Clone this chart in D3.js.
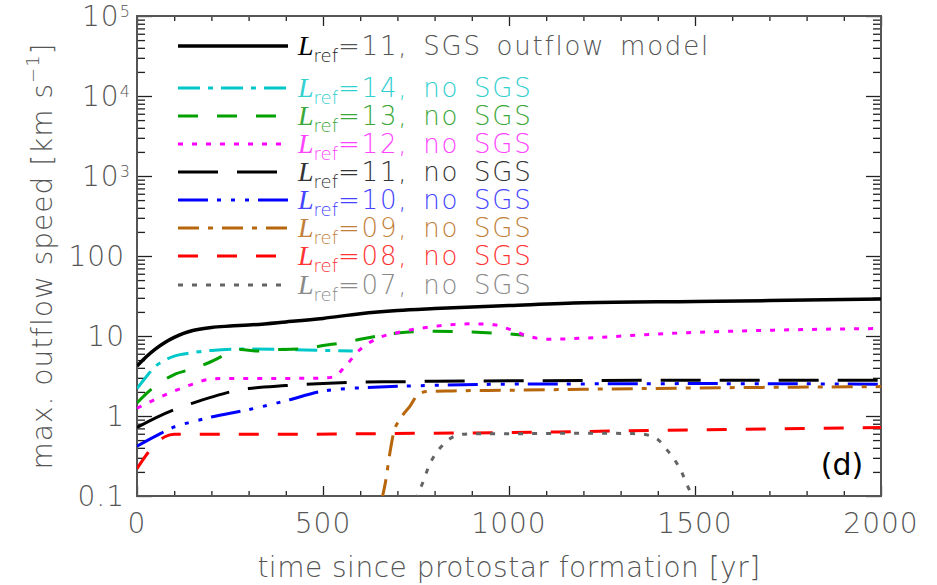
<!DOCTYPE html>
<html>
<head>
<meta charset="utf-8">
<script src="https://cdn.jsdelivr.net/npm/d3@7"></script>
<style>
  html, body { margin: 0; padding: 0; background: #fff; }
  svg { display: block; }
  .lbl { font-family: "DejaVu Sans", sans-serif; font-weight: 200; }
</style>
</head>
<body>
<svg id="chart" width="937" height="585"></svg>
<script>
// ---- data: max. outflow speed [km/s] vs. time since protostar formation [yr] ----
const sgsT  = [0, 25, 50, 75, 100, 125, 150, 200, 250, 300, 400, 500, 600, 700, 800, 1000, 1200, 1500, 1700, 2000];
const sgsV  = [4.2, 5.5, 6.9, 8.3, 9.6, 10.8, 11.7, 12.8, 13.3, 13.7, 15.0, 16.6, 19.0, 20.8, 22.0, 24.0, 26.0, 27.0, 27.7, 29.0];

const l14T = [0, 25, 50, 75, 100, 150, 200, 300, 400, 500, 580];
const l14V = [2.2, 3.1, 4.2, 5.0, 5.6, 6.2, 6.6, 6.9, 6.8, 6.6, 6.5];

const l13T = [0, 25, 50, 100, 150, 200, 250, 280, 320, 380, 450, 500, 550, 600, 700, 800, 900, 1000, 1040];
const l13V = [1.45, 1.9, 2.37, 3.3, 3.9, 4.8, 6.2, 6.8, 6.5, 6.8, 6.9, 7.6, 8.2, 9.1, 10.9, 11.5, 11.2, 10.6, 10.2];

const l12T = [0, 50, 100, 150, 200, 250, 300, 400, 500, 530, 560, 600, 650, 700, 800, 900, 960, 1000, 1050, 1100, 1200, 1400, 1700, 2000];
const l12V = [1.25, 1.62, 2.05, 2.5, 2.9, 2.95, 2.95, 2.95, 2.98, 3.1, 4.2, 6.8, 9.5, 11.0, 13.2, 14.2, 13.8, 12.2, 10.0, 9.1, 9.4, 10.6, 11.8, 12.4];

const l11T = [0, 50, 100, 150, 200, 250, 300, 400, 500, 600, 700, 800, 1000, 1200, 1500, 1800, 2000];
const l11V = [0.72, 0.95, 1.2, 1.45, 1.72, 2.0, 2.2, 2.4, 2.55, 2.65, 2.68, 2.72, 2.75, 2.78, 2.8, 2.8, 2.8];

const l10T = [0, 50, 100, 150, 200, 300, 400, 500, 550, 600, 700, 800, 1000, 1200, 1500, 2000];
const l10V = [0.42, 0.56, 0.73, 0.85, 0.97, 1.2, 1.55, 2.05, 2.18, 2.25, 2.35, 2.42, 2.5, 2.52, 2.54, 2.5];

const l09T = [658, 668, 680, 690, 707, 734, 755, 780, 850, 1000, 1200, 1500, 1800, 2000];
const l09V = [0.09, 0.15, 0.35, 0.62, 0.91, 1.33, 1.85, 2.02, 2.06, 2.1, 2.16, 2.24, 2.3, 2.33];

const l08T = [0, 30, 50, 75, 100, 200, 400, 600, 800, 1000, 1200, 1400, 1600, 1800, 2000];
const l08V = [0.22, 0.35, 0.45, 0.55, 0.59, 0.59, 0.59, 0.6, 0.61, 0.62, 0.64, 0.66, 0.68, 0.7, 0.72];

const l07T = [750, 757, 770, 783, 801, 819, 841, 864, 900, 1000, 1200, 1350, 1397, 1424, 1446, 1464, 1478, 1495];
const l07V = [0.09, 0.11, 0.154, 0.226, 0.33, 0.42, 0.52, 0.58, 0.6, 0.6, 0.61, 0.6, 0.52, 0.38, 0.28, 0.2, 0.14, 0.095];

// series table: label number, text, colours, dash styles
const seriesNames  = ["11", "14", "13", "12", "11", "10", "09", "08", "07"];
const seriesTexts  = ["SGS outflow model", "no SGS", "no SGS", "no SGS", "no SGS", "no SGS", "no SGS", "no SGS", "no SGS"];
const seriesColors = ["#000000", "#00c8c8", "#00a000", "#ff00ff", "#000000", "#0000ff", "#b8660b", "#ff0000", "#646464"];
const textColors   = ["#555555", "#33d0d0", "#3aa83a", "#ff44ff", "#333333", "#4444ff", "#c27f3a", "#ff3333", "#8a8a8a"];
const seriesDash   = [null, "22 8 5 8", "20 19", "5 9", "40 19", "30 9 4 10 4 10 4 9", "21 9 5 9", "20 19", "5 9"];
const seriesT = [sgsT, l14T, l13T, l12T, l11T, l10T, l09T, l08T, l07T];
const seriesV = [sgsV, l14V, l13V, l12V, l11V, l10V, l09V, l08V, l07V];

const xMajor = [0, 500, 1000, 1500, 2000];
const yMajor = [0.1, 1, 10, 100, 1e3, 1e4, 1e5];
const yLabels = [["0.1"], ["1"], ["10"], ["100"], ["10", "3"], ["10", "4"], ["10", "5"]];

// ---- layout ----
const svg = d3.select("#chart");
const L = 137, R = 881, T = 16, B = 496;
const x = d3.scaleLinear().domain([0, 2000]).range([L, R]);
const y = d3.scaleLog().domain([0.1, 1e5]).range([B, T]);

const axisColor = "#555";
const xMinor = d3.range(0, 2001, 100).filter(d => d % 500 !== 0);
const yMinor = [];
for (let e = -1; e < 5; e++) for (let k = 2; k <= 9; k++) yMinor.push(k * Math.pow(10, e));

function styleAxis(g) {
  g.select(".domain").remove();
  g.selectAll(".tick line").attr("stroke", "#222").attr("stroke-width", 1.3);
}

// ticks pointing into the plot on all four sides
svg.append("g").attr("transform", `translate(0,${B})`)
  .call(d3.axisBottom(x).tickValues(xMajor).tickSize(-10).tickFormat("")).call(styleAxis);
svg.append("g").attr("transform", `translate(0,${B})`)
  .call(d3.axisBottom(x).tickValues(xMinor).tickSize(-5).tickFormat("")).call(styleAxis);
svg.append("g").attr("transform", `translate(0,${T})`)
  .call(d3.axisTop(x).tickValues(xMajor).tickSize(-10).tickFormat("")).call(styleAxis);
svg.append("g").attr("transform", `translate(0,${T})`)
  .call(d3.axisTop(x).tickValues(xMinor).tickSize(-5).tickFormat("")).call(styleAxis);
svg.append("g").attr("transform", `translate(${L},0)`)
  .call(d3.axisLeft(y).tickValues(yMajor).tickSize(-15).tickFormat("")).call(styleAxis);
svg.append("g").attr("transform", `translate(${L},0)`)
  .call(d3.axisLeft(y).tickValues(yMinor).tickSize(-8).tickFormat("")).call(styleAxis);
svg.append("g").attr("transform", `translate(${R},0)`)
  .call(d3.axisRight(y).tickValues(yMajor).tickSize(-15).tickFormat("")).call(styleAxis);
svg.append("g").attr("transform", `translate(${R},0)`)
  .call(d3.axisRight(y).tickValues(yMinor).tickSize(-8).tickFormat("")).call(styleAxis);

// frame
svg.append("rect").attr("x", L).attr("y", T).attr("width", R - L).attr("height", B - T)
  .attr("fill", "none").attr("stroke", axisColor).attr("stroke-width", 2);

// tick labels
svg.append("g").selectAll("text").data(xMajor).join("text")
  .attr("class", "lbl").attr("x", d => x(d)).attr("y", 533)
  .attr("text-anchor", "middle").attr("font-size", 28).attr("fill", axisColor)
  .attr("letter-spacing", 1)
  .text(d => d);

const yl = svg.append("g").selectAll("text").data(yMajor).join("text")
  .attr("class", "lbl").attr("x", 125).attr("y", d => y(d) + 10)
  .attr("text-anchor", "end").attr("font-size", 28).attr("fill", axisColor)
  .attr("letter-spacing", 1);
yl.each(function(d, i) {
  const t = d3.select(this);
  const parts = yLabels[i];
  t.append("tspan").text(parts[0]);
  if (parts.length > 1) {
    t.attr("text-anchor", "start").attr("x", 82);
    t.append("tspan").attr("dy", -9).attr("font-size", 16).text(parts[1]);
  }
});

// axis titles
svg.append("text").attr("class", "lbl")
  .attr("x", x(1000)).attr("y", 577).attr("text-anchor", "middle")
  .attr("font-size", 28).attr("fill", axisColor).attr("letter-spacing", 0.5)
  .text("time since protostar formation [yr]");

const yt = svg.append("text").attr("class", "lbl")
  .attr("transform", `translate(52,${(T + B) / 2}) rotate(-90)`)
  .attr("text-anchor", "middle").attr("font-size", 28).attr("fill", axisColor)
  .attr("letter-spacing", 1);
yt.append("tspan").text("max. outflow speed [km s");
yt.append("tspan").attr("dy", -13).attr("font-size", 18).text("\u22121");
yt.append("tspan").attr("dy", 13).text("]");

// curves
const clip = svg.append("clipPath").attr("id", "plotclip");
clip.append("rect").attr("x", L).attr("y", T).attr("width", R - L).attr("height", B - T);

const line = d3.line().x(d => x(d[0])).y(d => y(d[1])).curve(d3.curveMonotoneX);
const plot = svg.append("g").attr("clip-path", "url(#plotclip)");
seriesT.forEach((ts, i) => {
  const pts = ts.map((t, j) => [t, seriesV[i][j]]);
  plot.append("path").datum(pts).attr("d", line)
    .attr("fill", "none").attr("stroke", seriesColors[i])
    .attr("stroke-width", i === 0 ? 3.5 : 3)
    .attr("stroke-dasharray", seriesDash[i]);
});

// legend
const legY = [46, 88, 116, 144, 172, 200, 228, 256, 285];
const leg = svg.append("g");
seriesNames.forEach((n, i) => {
  const yy = legY[i];
  leg.append("line").attr("x1", 178).attr("x2", 288).attr("y1", yy).attr("y2", yy)
    .attr("stroke", seriesColors[i]).attr("stroke-width", i === 0 ? 3.5 : 3)
    .attr("stroke-dasharray", seriesDash[i]);
  const tx = leg.append("text").attr("x", 298).attr("y", yy + 9)
    .attr("class", "lbl").attr("font-size", 26).attr("letter-spacing", 1.8)
    .attr("fill", textColors[i]);
  tx.append("tspan").attr("font-family", "'Liberation Serif', serif").attr("font-style", "italic")
    .attr("font-weight", 400).attr("font-size", 28).attr("letter-spacing", 0)
    .attr("fill", i === 0 ? "#000" : textColors[i]).text("L");
  tx.append("tspan").attr("dy", 7).attr("font-size", 18).attr("letter-spacing", 0)
    .attr("fill", i === 0 ? "#222" : textColors[i]).text("ref");
  tx.append("tspan").attr("dy", -7).text("=" + n + ",\u2002" + seriesTexts[i].replace(/ /g, "\u2002"));
});

// panel tag
svg.append("text").attr("x", 842).attr("y", 475).attr("text-anchor", "middle")
  .attr("font-family", "'DejaVu Sans', sans-serif").attr("font-size", 30).attr("fill", "#000")
  .text("(d)");
</script>
</body>
</html>
